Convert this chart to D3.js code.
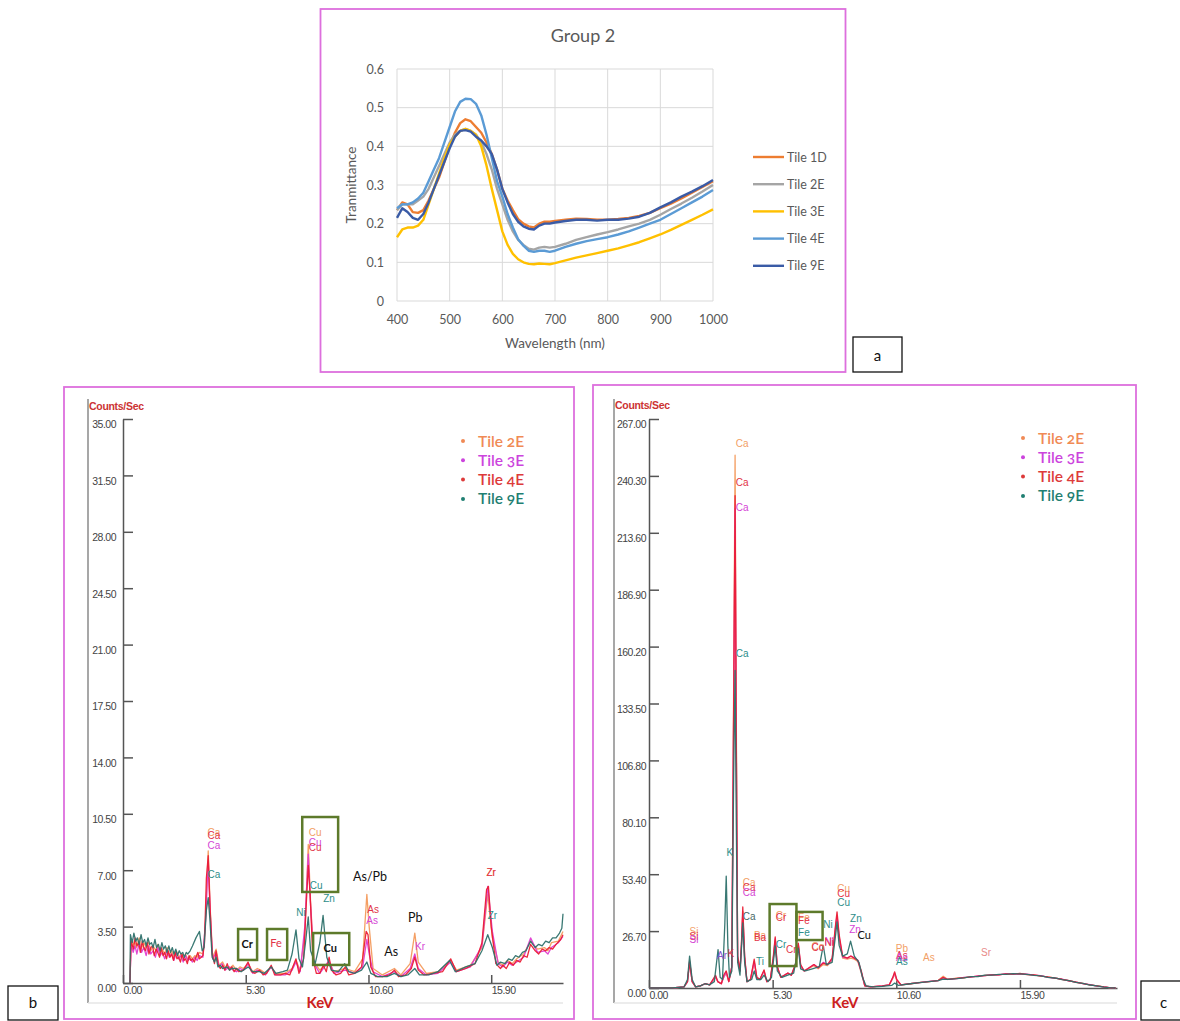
<!DOCTYPE html>
<html><head><meta charset="utf-8">
<script src="https://cdn.jsdelivr.net/npm/d3@7"></script>
<style>body{margin:0;background:#fff}svg{display:block}</style>
</head><body>
<script>
// ---------- Panel a data ----------
const wavelengths = [400,410,420,430,440,450,460,470,480,490,500,510,520,530,540,550,560,570,580,590,600,610,620,630,640,650,660,670,680,690,700,720,740,760,780,800,820,840,860,880,900,920,940,960,980,1000];
const tile1D = [0.235,0.255,0.25,0.23,0.228,0.235,0.26,0.29,0.32,0.36,0.40,0.435,0.46,0.47,0.465,0.45,0.435,0.41,0.38,0.34,0.29,0.26,0.235,0.212,0.2,0.193,0.19,0.2,0.205,0.205,0.207,0.21,0.213,0.212,0.21,0.21,0.212,0.215,0.22,0.228,0.24,0.252,0.265,0.28,0.295,0.31];
const tile2E = [0.235,0.25,0.25,0.25,0.26,0.27,0.29,0.32,0.35,0.38,0.41,0.43,0.44,0.445,0.44,0.43,0.41,0.38,0.34,0.29,0.25,0.21,0.18,0.158,0.145,0.135,0.133,0.138,0.14,0.138,0.14,0.148,0.158,0.165,0.172,0.178,0.185,0.193,0.2,0.21,0.223,0.238,0.252,0.267,0.283,0.3];
const tile3E = [0.165,0.185,0.19,0.19,0.195,0.21,0.25,0.29,0.33,0.37,0.405,0.425,0.44,0.445,0.44,0.43,0.40,0.35,0.29,0.235,0.18,0.145,0.122,0.108,0.1,0.096,0.095,0.097,0.096,0.095,0.098,0.105,0.112,0.118,0.124,0.13,0.136,0.144,0.152,0.162,0.172,0.184,0.197,0.21,0.223,0.237];
const tile4E = [0.24,0.25,0.25,0.255,0.265,0.28,0.31,0.34,0.37,0.41,0.45,0.49,0.515,0.523,0.522,0.51,0.48,0.43,0.37,0.31,0.27,0.225,0.19,0.16,0.143,0.13,0.127,0.13,0.13,0.127,0.13,0.14,0.148,0.155,0.16,0.165,0.172,0.18,0.19,0.2,0.21,0.225,0.24,0.255,0.27,0.287];
const tile9E = [0.215,0.24,0.23,0.215,0.21,0.225,0.255,0.29,0.325,0.36,0.395,0.425,0.44,0.442,0.438,0.425,0.415,0.4,0.38,0.34,0.29,0.255,0.225,0.205,0.193,0.187,0.185,0.195,0.2,0.2,0.203,0.207,0.21,0.21,0.208,0.21,0.21,0.213,0.218,0.228,0.242,0.255,0.27,0.283,0.297,0.313];
const aSeriesNames = ["Tile 1D","Tile 2E","Tile 3E","Tile 4E","Tile 9E"];
const aYTicks = [0,0.1,0.2,0.3,0.4,0.5,0.6];
const aXTicks = [400,500,600,700,800,900,1000];

// ---------- Panel b data (keV, counts/sec) ----------
const b2E = [[0.3,0],[0.34,2.7],[0.42,2.3],[0.5,2.6],[0.58,2.2],[0.7,2.8],[0.78,2.1],[0.9,2.5],[1.0,2.2],[1.1,2.6],[1.2,2.0],[1.3,2.3],[1.42,2.0],[1.5,2.4],[1.6,1.8],[1.7,2.1],[1.8,1.8],[1.9,2.2],[2.0,1.7],[2.1,2.0],[2.2,1.6],[2.3,2.0],[2.42,1.6],[2.5,1.8],[2.62,1.5],[2.7,1.8],[2.82,1.4],[2.9,1.7],[3.0,1.5],[3.1,1.7],[3.2,1.6],[3.3,1.9],[3.45,1.8],[3.55,3.5],[3.68,8.2],[3.77,4.5],[3.87,1.6],[4.02,2.1],[4.15,1.1],[4.3,1.3],[4.4,1.0],[4.6,0.9],[4.75,1.1],[4.9,0.8],[5.05,1.0],[5.2,0.9],[5.41,1.2],[5.6,0.7],[5.8,0.9],[5.95,0.8],[6.15,0.6],[6.4,1.0],[6.6,0.6],[7.0,0.6],[7.3,0.9],[7.47,1.4],[7.65,0.8],[7.85,3.0],[8.0,8.6],[8.1,5.0],[8.25,1.3],[8.5,0.8],[8.9,1.3],[9.1,0.7],[9.6,0.9],[10.0,0.7],[10.35,1.5],[10.53,5.5],[10.63,3.5],[10.8,0.9],[11.2,0.5],[11.72,0.9],[12.0,0.5],[12.4,1.2],[12.6,3.1],[12.75,1.3],[13.1,0.6],[13.6,0.7],[14.15,1.4],[14.4,0.8],[15.0,1.1],[15.5,2.2],[15.75,5.5],[15.95,2.8],[16.2,1.3],[16.4,1.1],[16.6,1.4],[16.8,1.2],[17.0,1.5],[17.3,1.8],[17.6,2.6],[17.9,2.1],[18.2,2.2],[18.35,2.0],[18.5,2.5],[18.8,2.6],[19.0,3.2]];
const b3E = [[0.3,0],[0.35,2.4],[0.44,1.9],[0.52,2.3],[0.6,1.8],[0.7,2.5],[0.8,1.9],[0.9,2.2],[1.0,1.7],[1.1,2.3],[1.2,1.8],[1.3,2.0],[1.4,1.6],[1.5,2.2],[1.6,1.7],[1.7,1.9],[1.8,1.5],[1.9,2.0],[2.0,1.6],[2.1,1.8],[2.2,1.4],[2.3,1.9],[2.4,1.5],[2.5,1.7],[2.6,1.3],[2.7,1.7],[2.8,1.4],[2.9,1.5],[3.0,1.3],[3.1,1.6],[3.2,1.4],[3.3,1.7],[3.45,1.6],[3.57,4.0],[3.68,7.6],[3.77,4.2],[3.87,1.5],[4.02,1.9],[4.15,1.0],[4.28,1.2],[4.4,0.8],[4.6,1.0],[4.75,0.8],[4.9,0.7],[5.05,0.9],[5.2,0.8],[5.41,1.2],[5.6,0.6],[5.8,0.8],[5.95,0.7],[6.15,0.5],[6.4,1.0],[6.6,0.5],[7.0,0.5],[7.3,0.8],[7.47,1.3],[7.65,0.7],[7.85,3.5],[8.0,8.0],[8.1,4.8],[8.25,1.2],[8.5,0.6],[8.9,1.4],[9.1,0.6],[9.6,0.8],[10.0,0.6],[10.35,1.0],[10.53,2.7],[10.63,1.8],[10.8,0.7],[11.2,0.4],[11.72,0.7],[12.0,0.4],[12.4,0.9],[12.6,1.8],[12.75,0.9],[13.1,0.5],[13.6,0.6],[14.15,1.3],[14.4,0.7],[15.0,1.0],[15.5,2.3],[15.75,6.0],[15.95,3.2],[16.2,1.2],[16.4,1.0],[16.6,1.3],[16.8,1.1],[17.0,1.3],[17.3,1.6],[17.6,2.8],[17.9,1.9],[18.2,2.0],[18.35,1.8],[18.5,2.2],[18.8,2.5],[19.0,2.9]];
const b4E = [[0.3,0],[0.35,2.6],[0.45,2.1],[0.52,2.8],[0.6,2.3],[0.68,2.5],[0.75,1.9],[0.83,2.6],[0.9,2.2],[0.97,2.0],[1.05,2.5],[1.12,1.8],[1.2,2.2],[1.28,2.3],[1.35,1.7],[1.43,2.1],[1.5,1.9],[1.58,1.6],[1.65,2.2],[1.73,1.7],[1.8,1.9],[1.88,1.5],[1.95,2.0],[2.03,1.6],[2.1,1.8],[2.18,1.4],[2.25,1.9],[2.33,1.5],[2.4,1.6],[2.48,1.3],[2.55,1.8],[2.63,1.4],[2.7,1.5],[2.78,1.2],[2.85,1.7],[2.93,1.4],[3.0,1.5],[3.08,1.3],[3.15,1.6],[3.23,1.9],[3.3,1.5],[3.38,1.6],[3.45,1.7],[3.52,2.5],[3.6,6.5],[3.68,7.9],[3.75,5.0],[3.85,1.8],[3.95,1.2],[4.02,2.0],[4.1,1.2],[4.2,0.9],[4.3,1.1],[4.4,0.8],[4.5,1.2],[4.6,0.8],[4.7,1.0],[4.8,0.7],[4.9,0.9],[5.0,0.7],[5.2,0.8],[5.4,1.3],[5.55,0.7],[5.7,0.6],[5.9,0.8],[6.05,0.5],[6.2,0.6],[6.4,1.1],[6.55,0.5],[6.8,0.5],[7.0,0.6],[7.2,0.5],[7.47,1.5],[7.6,0.6],[7.8,1.5],[7.9,4.5],[8.0,7.3],[8.08,5.5],[8.2,1.5],[8.35,0.6],[8.5,0.6],[8.65,1.1],[8.78,0.7],[8.9,1.6],[9.0,0.8],[9.2,0.5],[9.4,0.6],[9.6,1.0],[9.75,0.5],[10.0,0.6],[10.3,1.0],[10.5,3.2],[10.58,3.0],[10.7,1.0],[10.9,0.4],[11.2,0.4],[11.5,0.5],[11.72,0.8],[11.9,0.4],[12.2,0.5],[12.45,0.9],[12.6,1.6],[12.75,0.8],[13.0,0.5],[13.4,0.6],[13.8,0.7],[14.15,1.5],[14.4,0.7],[14.8,0.9],[15.2,1.2],[15.5,2.5],[15.7,5.8],[15.78,6.0],[15.9,3.5],[16.1,1.2],[16.3,0.9],[16.4,1.1],[16.55,0.9],[16.7,1.3],[16.85,1.1],[17.0,1.4],[17.15,1.3],[17.3,1.7],[17.45,1.6],[17.6,2.4],[17.8,2.0],[17.95,1.8],[18.1,2.1],[18.25,2.0],[18.4,2.2],[18.55,2.1],[18.7,2.4],[18.9,2.7],[19.0,3.0]];
const b9E = [[0.3,0],[0.32,3.0],[0.4,2.5],[0.47,3.1],[0.55,2.6],[0.62,2.8],[0.7,2.4],[0.78,3.0],[0.85,2.5],[0.93,2.7],[1.0,2.3],[1.08,2.8],[1.15,2.4],[1.23,2.5],[1.3,2.2],[1.38,2.7],[1.45,2.2],[1.53,2.4],[1.6,2.0],[1.68,2.5],[1.75,2.1],[1.83,2.3],[1.9,1.9],[1.98,2.3],[2.05,1.9],[2.13,2.2],[2.2,1.8],[2.28,2.1],[2.35,1.7],[2.43,2.0],[2.5,1.8],[2.58,1.9],[2.65,1.6],[2.73,1.9],[2.8,1.8],[2.9,2.0],[3.0,2.3],[3.15,2.8],[3.3,3.2],[3.42,2.0],[3.5,2.2],[3.6,4.5],[3.68,5.3],[3.75,4.0],[3.85,1.6],[3.95,1.3],[4.02,1.6],[4.1,1.0],[4.2,1.1],[4.3,0.9],[4.5,1.0],[4.6,0.8],[4.7,0.9],[4.9,0.9],[5.1,0.7],[5.41,1.0],[5.6,0.7],[5.9,0.7],[6.1,0.6],[6.4,1.0],[6.6,0.6],[6.9,0.7],[7.1,0.8],[7.3,1.8],[7.47,3.3],[7.6,1.5],[7.75,1.0],[7.88,2.5],[8.0,4.1],[8.1,2.0],[8.3,1.2],[8.5,2.5],[8.64,4.2],[8.8,1.6],[9.0,0.8],[9.3,0.7],[9.57,1.2],[9.75,0.7],[10.0,0.6],[10.3,0.8],[10.53,1.3],[10.7,0.6],[11.0,0.4],[11.4,0.4],[11.72,0.6],[12.0,0.4],[12.3,0.5],[12.6,0.9],[12.8,0.5],[13.2,0.5],[13.6,0.7],[14.1,1.4],[14.35,0.7],[14.8,1.0],[15.2,1.2],[15.5,2.0],[15.75,3.0],[15.95,2.2],[16.15,1.1],[16.3,1.3],[16.5,1.2],[16.65,1.5],[16.8,1.4],[16.95,1.7],[17.1,1.6],[17.25,1.9],[17.4,2.0],[17.6,2.6],[17.8,2.2],[17.95,2.4],[18.1,2.3],[18.25,2.6],[18.4,2.5],[18.55,2.8],[18.7,2.8],[18.85,3.1],[18.95,3.4],[19.0,4.3]];
const bYTicks = [0,3.5,7,10.5,14,17.5,21,24.5,28,31.5,35];
const xKeVTicks = [0,5.3,10.6,15.9];

// ---------- Panel c data (keV, counts/sec) ----------
const c2E = [[0,0],[1.0,0],[1.5,0.5],[1.65,3],[1.74,13],[1.85,3],[2.0,0.5],[2.2,1],[2.4,2],[2.6,1.5],[2.85,5],[2.95,3],[3.1,2],[3.2,5],[3.31,7],[3.42,3],[3.55,10],[3.64,160],[3.69,250],[3.74,130],[3.8,15],[3.9,8],[3.96,20],[4.02,36],[4.1,14],[4.2,3],[4.35,4],[4.51,12],[4.62,5],[4.75,4],[4.93,8],[5.05,3],[5.2,4],[5.33,14],[5.41,22],[5.5,10],[5.65,5],[5.8,6],[5.95,7],[6.1,6],[6.3,11],[6.4,20],[6.5,10],[6.65,8],[6.8,9],[7.07,10.5],[7.25,9],[7.47,11],[7.65,10.5],[7.85,13],[8.0,28],[8.06,33],[8.15,23],[8.3,14],[8.5,13.5],[8.65,14],[8.8,13.5],[8.95,12.5],[9.1,7],[9.25,1],[9.5,0.5],[10.0,1],[10.3,1.5],[10.45,4.5],[10.53,6.5],[10.62,3.5],[10.8,1.5],[11.2,2],[11.6,2.6],[12.0,3],[12.4,3.6],[12.61,5.5],[12.8,4.1],[13.2,4.6],[13.5,4.8],[13.8,5.3],[14.1,5.5],[14.4,5.9],[14.7,6.1],[15.0,6.3],[15.3,6.5],[15.6,6.6],[15.9,6.7],[16.2,6.4],[16.5,6.1],[16.8,5.7],[17.1,5.1],[17.4,4.7],[17.7,4.0],[18.0,3.5],[18.3,2.7],[18.6,2.2],[18.9,1.5],[19.2,1.0],[19.5,0.5],[19.8,0.1],[20.0,0]];
const c3E = [[0,0],[1.0,0],[1.5,0.5],[1.65,3],[1.74,12.5],[1.85,3],[2.0,0.5],[2.2,1],[2.4,2],[2.6,1.5],[2.85,5.5],[2.95,3],[3.1,2],[3.2,5],[3.31,7.5],[3.42,3],[3.55,10],[3.64,145],[3.69,225],[3.74,115],[3.8,14],[3.9,8],[3.96,19],[4.02,35],[4.1,14],[4.2,3],[4.35,4],[4.51,12.5],[4.62,5],[4.75,4],[4.93,8],[5.05,3],[5.2,4],[5.33,14],[5.41,23],[5.5,10],[5.65,5],[5.8,6],[5.95,7],[6.1,6],[6.3,11.5],[6.4,20.5],[6.5,10.5],[6.65,8],[6.8,9],[7.07,11],[7.25,9.5],[7.47,12],[7.65,11],[7.85,13.5],[8.0,29],[8.06,34],[8.15,24],[8.3,14.5],[8.5,14],[8.65,15],[8.8,14],[8.95,13],[9.1,7.5],[9.25,1],[9.5,0.5],[10.0,1],[10.3,1.5],[10.45,4.8],[10.53,7.0],[10.62,3.8],[10.8,1.5],[11.2,2.1],[11.6,2.5],[12.0,3.1],[12.4,3.5],[12.61,4.8],[12.8,4.0],[13.2,4.4],[13.5,5.0],[13.8,5.1],[14.1,5.7],[14.4,5.8],[14.7,6.3],[15.0,6.2],[15.3,6.7],[15.6,6.5],[15.9,6.6],[16.2,6.5],[16.5,6.0],[16.8,5.8],[17.1,5.0],[17.4,4.6],[17.7,4.2],[18.0,3.3],[18.3,2.8],[18.6,2.1],[18.9,1.6],[19.2,0.9],[19.5,0.5],[19.8,0.1],[20.0,0]];
const c4E = [[0,0],[1.0,0],[1.5,0.5],[1.65,3],[1.74,12],[1.85,3],[2.0,0.5],[2.2,1],[2.4,2],[2.6,1.5],[2.85,6],[2.95,3],[3.1,2],[3.2,6],[3.31,8],[3.42,3],[3.55,10],[3.64,150],[3.69,231],[3.74,120],[3.8,15],[3.9,8],[3.96,20],[4.02,38],[4.1,15],[4.2,3],[4.35,4],[4.51,13.5],[4.62,5],[4.75,4],[4.93,8.5],[5.05,3],[5.2,4],[5.33,15],[5.41,24],[5.5,10],[5.65,5],[5.8,6],[5.95,7],[6.1,6],[6.3,12],[6.4,21],[6.5,11],[6.65,8],[6.8,9],[7.07,11],[7.25,9.5],[7.47,11.7],[7.65,11],[7.85,14],[8.0,30],[8.06,35.7],[8.15,25],[8.3,15],[8.5,14],[8.65,15],[8.8,14],[8.95,13],[9.1,8],[9.25,1],[9.5,0.5],[10.0,1],[10.3,1.5],[10.45,5],[10.53,7.6],[10.62,4],[10.8,1.5],[11.2,2],[11.6,2.5],[12.0,3],[12.4,3.5],[12.61,5.0],[12.8,4],[13.2,4.5],[13.5,4.9],[13.8,5.2],[14.1,5.6],[14.4,5.8],[14.7,6.2],[15.0,6.2],[15.3,6.6],[15.6,6.5],[15.9,6.8],[16.2,6.3],[16.5,6.2],[16.8,5.6],[17.1,5.2],[17.4,4.6],[17.7,4.1],[18.0,3.4],[18.3,2.8],[18.6,2.1],[18.9,1.5],[19.2,1.0],[19.5,0.5],[19.8,0.1],[20.0,0]];
const c9E = [[0,0],[1.0,0],[1.5,0.5],[1.65,4],[1.74,15],[1.85,4],[2.0,0.5],[2.2,1],[2.4,2],[2.6,1.5],[2.8,3],[2.96,18],[3.05,5],[3.15,4],[3.25,30],[3.31,52.5],[3.38,20],[3.45,5],[3.55,8],[3.63,100],[3.69,149],[3.74,80],[3.8,12],[3.9,6],[3.96,18],[4.02,30.5],[4.1,12],[4.2,3],[4.4,4],[4.51,8],[4.62,4],[4.8,4],[4.93,6],[5.1,3],[5.25,5],[5.41,19.7],[5.5,8],[5.7,5],[5.95,6],[6.2,7],[6.4,18.7],[6.5,9],[6.7,8],[7.0,9],[7.3,10],[7.47,20],[7.6,11],[7.85,12],[8.0,25],[8.06,31],[8.15,20],[8.3,15],[8.5,16],[8.64,22],[8.8,15],[9.0,12],[9.15,5],[9.3,1],[9.6,0.5],[10.0,0.8],[10.4,1.2],[10.53,2.3],[10.7,1.2],[11.2,2],[11.6,2.5],[12.0,3],[12.4,3.5],[12.61,4.2],[12.8,4],[13.2,4.4],[13.5,4.8],[13.8,5.3],[14.1,5.4],[14.4,6.0],[14.7,6.0],[15.0,6.4],[15.3,6.4],[15.6,6.7],[15.9,6.6],[16.2,6.4],[16.5,5.9],[16.8,5.7],[17.1,5.0],[17.4,4.7],[17.7,3.9],[18.0,3.5],[18.3,2.6],[18.6,2.2],[18.9,1.4],[19.2,1.0],[19.5,0.4],[19.8,0.1],[20.0,0]];
const cYTicks = [0,26.7,53.4,80.1,106.8,133.5,160.2,186.9,213.6,240.3,267];
const xrfSeriesNames = ["Tile 2E","Tile 3E","Tile 4E","Tile 9E"];

// ---------- Peak labels (keV, counts, label, colour key) ----------
const bLabels = [
  [3.93,9.3,"Ca","o"],[3.93,9.1,"Ca","r"],[3.93,8.5,"Ca","m"],[3.93,6.7,"Ca","t"],
  [8.3,9.3,"Cu","o"],[8.3,8.69,"Cu","m"],[8.3,8.38,"Cu","r"],[8.34,6.02,"Cu","t"],
  [8.9,5.21,"Zn","t"],[7.69,4.34,"Ni","t"],
  [10.8,4.53,"As","r"],[10.76,3.85,"As","m"],[12.83,2.23,"Kr","m"],
  [15.9,6.83,"Zr","o"],[15.9,6.83,"Zr","r"],[15.95,4.16,"Zr","t"]
];
const bNotes = [[10.67,6.52,"As/Pb"],[12.62,3.97,"Pb"],[11.58,1.86,"As"]];
const bBoxes = [[7.74,9.29,10.3,5.65],[4.97,5.79,3.35,1.43],[6.22,7.09,3.35,1.43],[8.21,9.77,3.1,1.12]];
const bBoxText = [[5.36,2.36,"Cr","k"],[6.61,2.42,"Fe","r"],[8.95,2.11,"Cu","k"]];
const cLabels = [
  [3.99,255.3,"Ca","o"],[3.99,237,"Ca","r"],[3.99,225.2,"Ca","m"],[3.99,156.7,"Ca","t"],
  [3.47,63.3,"K","t"],
  [4.29,49.3,"Ca","o"],[4.29,46.9,"Ca","r"],[4.29,44.6,"Ca","m"],[4.29,33.3,"Ca","g"],
  [1.93,26.3,"Si","o"],[1.93,23.9,"Si","r"],[1.93,22.5,"Si","m"],
  [3.13,15.0,"Ar","b"],[3.51,16.0,"K","r"],
  [4.76,24.4,"Ba","o"],[4.76,23.5,"Ba","r"],[4.76,12.2,"Ti","t"],
  [5.66,33.8,"Cr","o"],[5.66,32.8,"Cr","r"],[5.66,20.2,"Cr","t"],[6.1,17.8,"Cr","r"],
  [6.64,32.8,"Fe","o"],[6.64,31.4,"Fe","r"],[6.64,25.8,"Fe","t"],
  [7.24,19.2,"Co","o"],[7.24,18.6,"Co","r"],[7.72,21.6,"Ni","m"],[7.72,21.0,"Ni","r"],[7.67,29.6,"Ni","t"],
  [8.34,46.5,"Cu","o"],[8.34,44.1,"Cu","r"],[8.34,39.9,"Cu","t"],
  [8.87,32.4,"Zn","t"],[8.83,27.2,"Zn","m"],
  [10.84,18.3,"Pb","o"],[10.84,15.0,"As","r"],[10.84,13.9,"As","m"],[10.84,12.2,"As","t"],
  [12.0,14.1,"As","o"],[14.45,16.4,"Sr","p"]
];
const cNotes = [[9.22,24.4,"Cu"]];
const cBoxes = [[5.17,6.32,39.4,10.3],[6.32,7.44,35.7,22.5]];

// ---------- Drawing ----------
const svg = d3.select("body").append("svg").attr("width",1180).attr("height",1021);
svg.append("rect").attr("width",1180).attr("height",1021).attr("fill","#fff");
const FONT = "Lato, 'Open Sans', sans-serif";
const ARIAL = "'Liberation Sans', Arial, sans-serif";
const magenta = "#dd6fdd";

// ===== Panel a =====
svg.append("rect").attr("x",320.5).attr("y",9).attr("width",525).attr("height",363)
  .attr("fill","none").attr("stroke",magenta).attr("stroke-width",1.8);
const ax = d3.scaleLinear().domain([400,1000]).range([397,713]);
const ay = d3.scaleLinear().domain([0,0.6]).range([301,69]);
const ga = svg.append("g");
ga.selectAll(".hg").data(aYTicks).join("line")
  .attr("x1",ax(400)).attr("x2",ax(1000)).attr("y1",d=>ay(d)).attr("y2",d=>ay(d))
  .attr("stroke","#d9d9d9").attr("stroke-width",1);
ga.selectAll(".vg").data(aXTicks).join("line")
  .attr("x1",d=>ax(d)).attr("x2",d=>ax(d)).attr("y1",ay(0)).attr("y2",ay(0.6))
  .attr("stroke","#d9d9d9").attr("stroke-width",1);
const aYAxis = ga.append("g").attr("transform",`translate(${ax(400)},0)`)
  .call(d3.axisLeft(ay).tickValues(aYTicks).tickSize(0).tickPadding(13).tickFormat(d=>d===0?"0":d3.format(".1f")(d)));
const aXAxis = ga.append("g").attr("transform",`translate(0,${ay(0)})`)
  .call(d3.axisBottom(ax).tickValues(aXTicks).tickSize(0).tickPadding(14).tickFormat(d=>String(d)));
[aYAxis,aXAxis].forEach(g=>{g.select(".domain").remove();
  g.selectAll("text").attr("fill","#595959").attr("font-size","12.5px").attr("font-family",FONT);});
const aColors = ["#ed7d31","#a5a5a5","#ffc000","#5b9bd5","#3a5ba6"];
const aSeries = [tile1D,tile2E,tile3E,tile4E,tile9E];
const aLine = d3.line().x((d,i)=>ax(wavelengths[i])).y(d=>ay(d));
aSeries.forEach((s,k)=>{
  ga.append("path").attr("d",aLine(s)).attr("fill","none").attr("stroke",aColors[k])
    .attr("stroke-width",2.4).attr("stroke-linejoin","round");
});
svg.append("text").attr("x",583).attr("y",42).attr("text-anchor","middle")
  .attr("font-family",FONT).attr("font-size","18px").attr("fill","#595959").text("Group 2");
svg.append("text").attr("x",555).attr("y",348).attr("text-anchor","middle")
  .attr("font-family",FONT).attr("font-size","13.5px").attr("fill","#595959").text("Wavelength (nm)");
svg.append("text").attr("transform","translate(356,185) rotate(-90)").attr("text-anchor","middle")
  .attr("font-family",FONT).attr("font-size","13.5px").attr("fill","#595959").text("Tranmittance");
aSeriesNames.forEach((n,k)=>{
  const y = 157 + k*27.2;
  svg.append("line").attr("x1",753).attr("x2",784).attr("y1",y).attr("y2",y)
    .attr("stroke",aColors[k]).attr("stroke-width",2.4);
  svg.append("text").attr("x",787).attr("y",y+4.5).attr("font-family",FONT).attr("font-size","12.5px")
    .attr("fill","#595959").text(n);
});
svg.append("rect").attr("x",853).attr("y",337).attr("width",49).attr("height",35)
  .attr("fill","none").attr("stroke","#111").attr("stroke-width",1.3);
svg.append("text").attr("x",877.5).attr("y",361).attr("text-anchor","middle")
  .attr("font-family",FONT).attr("font-size","15px").attr("fill","#111").text("a");

// ===== XRF panels =====
const lblColors = {o:"#f2a066",m:"#d545d5",r:"#e23347",t:"#2e8e8a",g:"#4a6a66",k:"#111",b:"#8a52d0",p:"#e88a8a"};
const specColors = ["#f39a5c","#e03cd0","#ea1e34","#2e716c"];
const legColors = ["#f08a55","#cc44dd","#dd3a3a","#1f7f72"];

function xrfPanel(opt){
  const g = svg.append("g");
  g.append("rect").attr("x",opt.border[0]).attr("y",opt.border[1]).attr("width",opt.border[2]).attr("height",opt.border[3])
    .attr("fill","none").attr("stroke",magenta).attr("stroke-width",1.8);
  g.append("line").attr("x1",opt.frameX).attr("x2",opt.frameX).attr("y1",399).attr("y2",1003)
    .attr("stroke","#8a8a8a").attr("stroke-width",1.5);
  g.append("line").attr("x1",opt.frameX).attr("x2",opt.xr[1]).attr("y1",1003).attr("y2",1003)
    .attr("stroke","#e6e6e6").attr("stroke-width",1.5);
  const x = d3.scaleLinear().domain(opt.xd).range(opt.xr);
  const y = d3.scaleLinear().domain(opt.yd).range(opt.yr);
  const yA = g.append("g").attr("transform",`translate(${opt.xr[0]},0)`)
    .call(d3.axisLeft(y).tickValues(opt.yTicks).tickSize(-10).tickSizeOuter(0).tickPadding(opt.ypad).tickFormat(d3.format(".2f")));
  yA.selectAll("text").attr("dy","0.85em");
  const xA = g.append("g").attr("transform",`translate(0,${opt.yr[0]})`)
    .call(d3.axisBottom(x).tickValues(xKeVTicks).tickSize(-8).tickSizeOuter(0).tickPadding(3).tickFormat(d3.format(".2f")));
  xA.selectAll("text").attr("text-anchor","start").attr("dy","0.75em");
  [yA,xA].forEach(a=>{
    a.selectAll("path,line").attr("stroke","#555").attr("stroke-width",1.5);
    a.selectAll("text").attr("fill","#444").attr("font-size","10.5px").attr("font-family",ARIAL).attr("letter-spacing","-0.5px");
  });
  const line = d3.line().x(d=>x(d[0])).y(d=>y(d[1])).curve(d3.curveLinear);
  opt.series.forEach((s,k)=>{
    g.append("path").attr("d",line(s)).attr("fill","none").attr("stroke",specColors[k])
      .attr("stroke-width",1.3).attr("stroke-linejoin","round").attr("opacity",0.95);
  });
  g.append("text").attr("x",opt.frameX+1).attr("y",opt.csY).attr("font-family",ARIAL).attr("font-weight","bold")
    .attr("font-size","10.5px").attr("fill","#cc3333").attr("letter-spacing","-0.3px").text("Counts/Sec");
  g.append("text").attr("x",opt.kevX).attr("y",1008).attr("text-anchor","middle").attr("font-family",FONT)
    .attr("font-weight","bold").attr("font-size","15px").attr("fill","#cc2020").text("KeV");
  xrfSeriesNames.forEach((n,k)=>{
    const yy = opt.legY + k*19.3;
    g.append("circle").attr("cx",opt.legX).attr("cy",yy).attr("r",2).attr("fill",legColors[k]);
    g.append("text").attr("x",opt.legX+15).attr("y",yy+5.5).attr("font-family",FONT).attr("font-size","15.5px")
      .attr("font-weight","600").style("font-variant-numeric","oldstyle-nums").attr("fill",legColors[k]).text(n);
  });
  opt.labels.forEach(l=>{
    g.append("text").attr("x",x(l[0])).attr("y",y(l[1])).attr("text-anchor","middle").attr("dominant-baseline","middle")
      .attr("font-family",ARIAL).attr("font-size","10px").attr("fill",lblColors[l[3]]).text(l[2]);
  });
  opt.notes.forEach(l=>{
    g.append("text").attr("x",x(l[0])).attr("y",y(l[1])).attr("text-anchor","middle").attr("dominant-baseline","middle")
      .attr("font-family",FONT).attr("font-size",opt.noteSize).attr("fill","#111").text(l[2]);
  });
  opt.boxes.forEach(b=>{
    g.append("rect").attr("x",x(b[0])).attr("y",y(b[2])).attr("width",x(b[1])-x(b[0])).attr("height",y(b[3])-y(b[2]))
      .attr("fill","none").attr("stroke","#5d7a2b").attr("stroke-width",2.5);
  });
  (opt.boxText||[]).forEach(l=>{
    g.append("text").attr("x",x(l[0])).attr("y",y(l[1])).attr("text-anchor","middle").attr("dominant-baseline","middle")
      .attr("font-family",FONT).attr("font-size","11px").attr("font-weight",l[3]==="k"?"bold":"normal")
      .attr("fill",lblColors[l[3]]).text(l[2]);
  });
  g.append("rect").attr("x",opt.tagBox[0]).attr("y",opt.tagBox[1]).attr("width",opt.tagBox[2]).attr("height",opt.tagBox[3])
    .attr("fill","none").attr("stroke","#111").attr("stroke-width",1.3);
  g.append("text").attr("x",opt.tagBox[0]+opt.tagBox[2]/2).attr("y",1008).attr("text-anchor","middle")
    .attr("font-family",FONT).attr("font-size","15px").attr("fill","#111").text(opt.tag);
}

xrfPanel({border:[64,387,510,632], frameX:88, xd:[0,19.0], xr:[123,563], yd:[0,35], yr:[983,419],
  yTicks:bYTicks, ypad:7, series:[b2E,b3E,b4E,b9E], csY:410, kevX:320, legX:463, legY:441,
  labels:bLabels, notes:bNotes, noteSize:"12.5px", boxes:bBoxes, boxText:bBoxText,
  tagBox:[8,986,50,34], tag:"b"});
xrfPanel({border:[593,385,543,634], frameX:614, xd:[0,20.06], xr:[649,1117], yd:[0,267], yr:[988,419],
  yTicks:cYTicks, ypad:3, series:[c2E,c3E,c4E,c9E], csY:409, kevX:845, legX:1023, legY:438,
  labels:cLabels, notes:cNotes, noteSize:"11px", boxes:cBoxes, boxText:[],
  tagBox:[1141,981,45,39], tag:"c"});
</script>
</body></html>
